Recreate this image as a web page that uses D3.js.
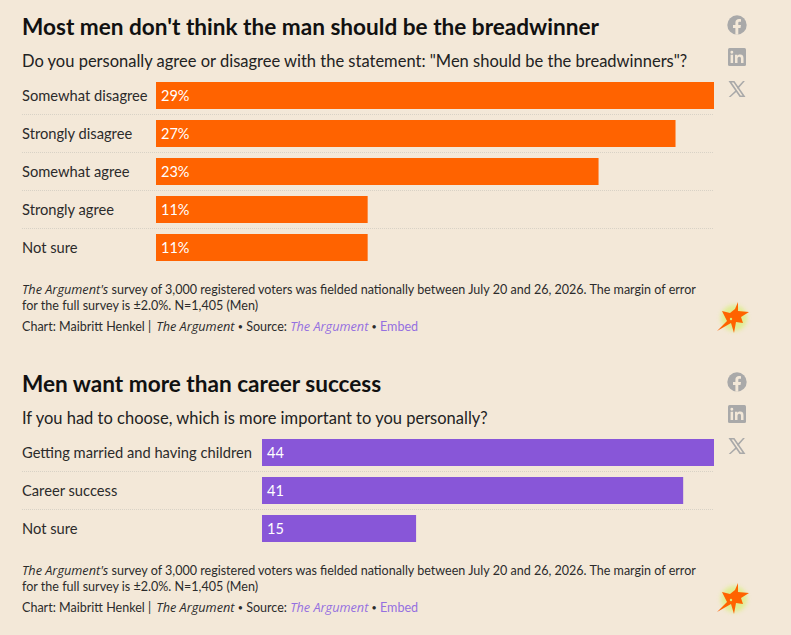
<!DOCTYPE html>
<html>
<head>
<meta charset="utf-8">
<script src="https://cdn.jsdelivr.net/npm/d3@7"></script>
<style>
  html, body { margin: 0; padding: 0; background: #f3e8d8; }
  svg { display: block; font-family: Lato, "Open Sans", sans-serif; }
  .title { font-size: 22.6px; font-weight: 700; fill: #111; }
  .subtitle { font-size: 16.5px; fill: #222; }
  .cat { font-size: 14.7px; fill: #2b2b2b; }
  .val { font-size: 14.5px; fill: #fff; }
  .note { font-size: 12.55px; fill: #2b2b2b; }
  .ital { font-family: "Open Sans", sans-serif; font-style: italic; font-size: 12.7px; }
  .link { fill: #9570e0; }
</style>
</head>
<body>
<div id="chart"></div>
<script>
const breadCategories = ["Somewhat disagree", "Strongly disagree", "Somewhat agree", "Strongly agree", "Not sure"];
const breadValues = [29, 27, 23, 11, 11];
const careerCategories = ["Getting married and having children", "Career success", "Not sure"];
const careerValues = [44, 41, 15];

const width = 791;
const height = 635;
const barHeight = 27;
const barStep = 38;
const left = 22;
const right = 714;

const svg = d3.select("#chart").append("svg").attr("width", width).attr("height", height);

function renderIcons(g) {
  const icons = g.append("g").attr("transform", "translate(737,0)").attr("fill", "#a9a9a9");

  // facebook
  icons.append("circle").attr("cx", 0).attr("cy", 25).attr("r", 9.7);
  icons.append("path").attr("fill", "#f3e8d8")
    .attr("d", "M-1.6,34.7 V28 H-4 V25 H-1.6 V22.8 C-1.6,20.2 0,19 2,19 C3,19 3.8,19.1 4,19.2 V21.8 H2.6 C1.4,21.8 1.3,22.4 1.3,23.2 V25 H4 L3.5,28 H1.3 V34.7 Z");

  // linkedin
  icons.append("rect").attr("x", -9).attr("y", 48).attr("width", 18).attr("height", 18).attr("rx", 1.5);
  icons.append("path").attr("fill", "#f3e8d8")
    .attr("d", "M-6.4,54.8 H-3.9 V63 H-6.4 Z M-5.15,50.8 A1.45,1.45 0 1 1 -5.15,53.7 A1.45,1.45 0 1 1 -5.15,50.8 Z M-2,54.8 H0.4 V56 C0.9,55.1 1.9,54.6 3.1,54.6 C5.7,54.6 6.5,56.2 6.5,58.5 V63 H4 V59 C4,57.8 3.7,56.8 2.4,56.8 C1,56.8 0.5,57.8 0.5,59 V63 H-2 Z");

  // x
  icons.append("path").attr("fill-rule", "evenodd")
    .attr("d", "M-8.5,81 H-2.6 L8.5,97 H2.6 Z M-5.4,82.5 L3.6,95.5 H5.5 L-3.5,82.5 Z");
  icons.append("path").attr("d", "M6,81 H7.9 L1,88.9 L0,87.5 Z M-1,90 L0,91.3 L-6.4,97 H-8.3 Z");
}

function renderBurst(g, cx, cy) {
  const burst = g.append("g").attr("transform", `translate(${cx},${cy})`);
  burst.append("circle").attr("r", 13).attr("cx", 1).attr("fill", "#d9ee7a").attr("opacity", 0.75).style("filter", "blur(2px)");
  burst.append("polygon").attr("fill", "#ff6300")
    .attr("points", "5,-16 5,-7 16,-6 8,-1 10,5 3,4 1,15 -2,5 -16,13 -6,3 -11,-7 -3,-5 2,-9");
  burst.append("circle").attr("cx", -2).attr("cy", 1).attr("r", 1.2).attr("fill", "#d9ee7a");
}

// small bullet, sits a bit above the baseline like the reference
function addBullet(text) {
  text.append("tspan").text(" ");
  text.append("tspan").attr("font-size", 9).attr("dy", -1).text("•");
  text.append("tspan").attr("dy", 1).text(" ");
}

// Draws one block, y0 is the offset of the block from the top of the page
function renderChart(cfg) {
  const g = svg.append("g").attr("transform", `translate(0, ${cfg.y0})`);

  g.append("text").attr("class", "title").attr("x", left).attr("y", 35).text(cfg.title);
  g.append("text").attr("class", "subtitle").attr("x", left).attr("y", 67).text(cfg.subtitle);

  const n = cfg.categories.length;
  const xScale = d3.scaleLinear().domain([0, d3.max(cfg.values)]).range([cfg.barLeft, right]);
  const yScale = d3.scaleBand()
    .domain(cfg.categories)
    .range([82, 82 + barHeight + barStep * (n - 1)])
    .paddingInner((barStep - barHeight) / barStep)
    .paddingOuter(0);

  // dotted separators
  g.selectAll(".sep")
    .data(cfg.categories.slice(0, -1))
    .enter()
    .append("line")
    .attr("class", "sep")
    .attr("x1", left)
    .attr("x2", right)
    .attr("y1", (d) => yScale(d) + barHeight + 5.5)
    .attr("y2", (d) => yScale(d) + barHeight + 5.5)
    .attr("stroke", "#d8d2c6")
    .attr("stroke-width", 1)
    .attr("stroke-dasharray", "1 1");

  const rows = g.selectAll(".row")
    .data(cfg.categories.map((c, i) => ({ cat: c, val: cfg.values[i] })))
    .enter()
    .append("g")
    .attr("class", "row");

  rows.append("text")
    .attr("class", "cat")
    .attr("x", left)
    .attr("y", (d) => yScale(d.cat) + barHeight / 2 + 5)
    .text((d) => d.cat);

  rows.append("rect")
    .attr("x", cfg.barLeft)
    .attr("y", (d) => yScale(d.cat))
    .attr("width", (d) => xScale(d.val) - cfg.barLeft)
    .attr("height", yScale.bandwidth())
    .attr("fill", cfg.color);

  rows.append("text")
    .attr("class", "val")
    .attr("x", cfg.barLeft + 5)
    .attr("y", (d) => yScale(d.cat) + barHeight / 2 + 5)
    .text((d) => d.val + cfg.suffix);

  // notes
  const noteY = cfg.noteY;
  const line1 = g.append("text").attr("class", "note").attr("x", left).attr("y", noteY);
  line1.append("tspan").attr("class", "ital").text("The Argument's");
  line1.append("tspan").text(" survey of 3,000 registered voters was fielded nationally between July 20 and 26, 2026. The margin of error");
  g.append("text").attr("class", "note").attr("x", left).attr("y", noteY + 16)
    .text("for the full survey is ±2.0%. N=1,405 (Men)");
  const line3 = g.append("text").attr("class", "note").attr("x", left).attr("y", noteY + 37);
  line3.append("tspan").text("Chart: Maibritt Henkel | ");
  line3.append("tspan").attr("class", "ital").attr("dx", 2).text("The Argument");
  addBullet(line3);
  line3.append("tspan").text("Source: ");
  line3.append("tspan").attr("class", "link ital").text("The Argument");
  addBullet(line3);
  line3.append("tspan").attr("class", "link").text("Embed");

  renderIcons(g);
  renderBurst(g, 733, noteY + 24);
}

renderChart({
  y0: 0,
  title: "Most men don't think the man should be the breadwinner",
  subtitle: 'Do you personally agree or disagree with the statement: "Men should be the breadwinners"?',
  categories: breadCategories,
  values: breadValues,
  barLeft: 156,
  color: "#ff6300",
  suffix: "%",
  noteY: 294
});

renderChart({
  y0: 357,
  title: "Men want more than career success",
  subtitle: "If you had to choose, which is more important to you personally?",
  categories: careerCategories,
  values: careerValues,
  barLeft: 262,
  color: "#8856d8",
  suffix: "",
  noteY: 218
});
</script>
</body>
</html>
